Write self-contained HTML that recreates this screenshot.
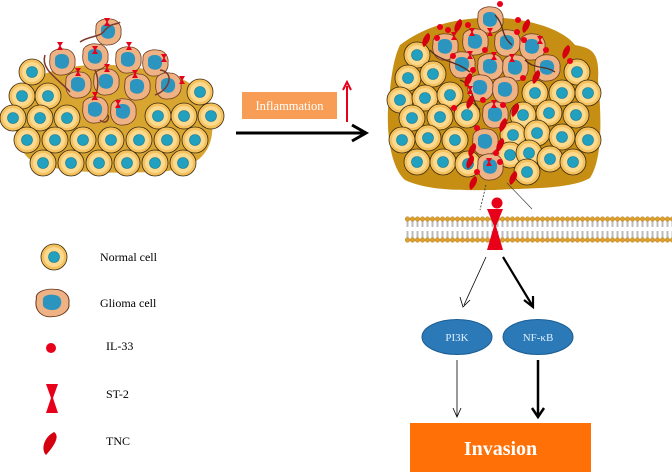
<!DOCTYPE html>
<html><head><meta charset="utf-8"><style>
html,body{margin:0;padding:0;background:#fff;}
svg{display:block;}
text{font-family:"Liberation Serif",serif;}
</style></head><body>
<svg width="672" height="472" viewBox="0 0 672 472" xmlns="http://www.w3.org/2000/svg">
<defs>
<g id="n"><circle r="13" fill="#f4c15c" stroke="#3a2a10" stroke-width="0.8"/><circle r="10" fill="#fbd98f"/><circle r="5.5" fill="#21a0c0" stroke="#157a94" stroke-width="0.6"/></g>
<g id="g"><path d="M-12,-4 C-13,-11 -4,-14 2,-13 C9,-13 14,-7 13,0 C14,7 8,13 0,13 C-7,14 -14,8 -12,-4Z" fill="#efb285" stroke="#6b3b1e" stroke-width="0.8"/><path d="M-7,-3 C-7,-8 0,-9 4,-7 C8,-5 8,2 5,5 C2,8 -6,7 -7,2Z" fill="#2b94bf"/></g>
<g id="r"><path d="M-3,-4 L3,-4 L0.6,0 L3,4 L-3,4 L-0.6,0Z" fill="#e8001a"/></g>
<g id="t"><path d="M2,-7 C6,-5 4,2 -2,7 C-5,5 -4,-3 2,-7Z" fill="#d4000f"/></g>
<pattern id="mem" x="0" y="0" width="5" height="27" patternUnits="userSpaceOnUse">
<line x1="2" y1="3" x2="2" y2="11" stroke="#aaa" stroke-width="0.8"/><line x1="3" y1="3" x2="3" y2="11" stroke="#aaa" stroke-width="0.8"/>
<line x1="2" y1="15" x2="2" y2="23" stroke="#aaa" stroke-width="0.8"/><line x1="3" y1="15" x2="3" y2="23" stroke="#aaa" stroke-width="0.8"/>
<circle cx="2.5" cy="3" r="2.3" fill="#e0a12a" stroke="#a06a10" stroke-width="0.4"/>
<circle cx="2.5" cy="24" r="2.3" fill="#e0a12a" stroke="#a06a10" stroke-width="0.4"/>
</pattern>
</defs>

<!-- left cluster -->
<path d="M30,80 C60,65 100,60 150,70 C190,75 210,95 212,120 C215,150 200,172 150,172 C100,174 45,172 28,158 C10,140 12,100 30,80Z" fill="#d9a531"/>
<g>
<use href="#n" x="32" y="72"/>
<use href="#n" x="22" y="96"/><use href="#n" x="48" y="96"/><use href="#n" x="200" y="92"/>
<use href="#n" x="13" y="118"/><use href="#n" x="40" y="118"/><use href="#n" x="67" y="118"/><use href="#n" x="158" y="116"/><use href="#n" x="184" y="116"/><use href="#n" x="211" y="116"/>
<use href="#n" x="27" y="140"/><use href="#n" x="55" y="140"/><use href="#n" x="83" y="140"/><use href="#n" x="111" y="140"/><use href="#n" x="139" y="140"/><use href="#n" x="167" y="140"/><use href="#n" x="195" y="140"/>
<use href="#n" x="43" y="163"/><use href="#n" x="71" y="163"/><use href="#n" x="99" y="163"/><use href="#n" x="127" y="163"/><use href="#n" x="155" y="163"/><use href="#n" x="183" y="163"/>
</g>
<g>
<use href="#g" x="108" y="32"/><use href="#g" x="62" y="62"/><use href="#g" x="95" y="57"/><use href="#g" x="128" y="60"/><use href="#g" x="155" y="63"/>
<use href="#g" x="78" y="85"/><use href="#g" x="106" y="82"/><use href="#g" x="137" y="87"/><use href="#g" x="168" y="86"/>
<use href="#g" x="95" y="110"/><use href="#g" x="123" y="112"/>
</g>
<g fill="none" stroke="#7a3a2a" stroke-width="1.5">
<path d="M80,42 C90,35 100,38 105,30 C112,22 118,25 120,22"/>
<path d="M45,55 C40,70 60,80 70,92"/><path d="M95,70 C100,80 98,95 92,100"/>
<path d="M160,70 C175,72 170,90 155,95"/><path d="M100,120 C105,125 110,120 108,115"/>
</g>
<g><use href="#r" x="107" y="22"/><use href="#r" x="60" y="46"/><use href="#r" x="95" y="50"/><use href="#r" x="129" y="46"/><use href="#r" x="164" y="58"/><use href="#r" x="78" y="72"/><use href="#r" x="107" y="68"/><use href="#r" x="135" y="74"/><use href="#r" x="182" y="80"/><use href="#r" x="95" y="96"/><use href="#r" x="118" y="104"/></g>

<!-- inflammation -->
<rect x="242" y="92" width="95" height="27" fill="#f79d55"/>
<text x="289.5" y="110" font-size="12.5" fill="#fff" text-anchor="middle">Inflammation</text>
<line x1="347" y1="122" x2="347" y2="86" stroke="#e8001a" stroke-width="2"/>
<path d="M343,90 L347,82 L351,90" fill="none" stroke="#e8001a" stroke-width="2"/>
<line x1="236" y1="133" x2="364" y2="133" stroke="#000" stroke-width="3"/>
<path d="M352,125 L366,133 L352,141" fill="none" stroke="#000" stroke-width="3"/>

<!-- right cluster -->
<path d="M400,45 C420,30 445,20 480,18 C510,15 560,25 575,45 C590,48 600,50 598,80 C602,120 602,160 590,178 C570,190 520,188 495,190 C470,190 430,192 405,180 C388,165 385,120 390,90 C392,70 395,55 400,45Z" fill="#c68f14"/>
<g>
<use href="#n" x="417" y="55"/><use href="#n" x="408" y="78"/><use href="#n" x="433" y="74"/>
<use href="#n" x="400" y="100"/><use href="#n" x="425" y="98"/><use href="#n" x="450" y="95"/>
<use href="#n" x="412" y="118"/><use href="#n" x="440" y="117"/><use href="#n" x="467" y="115"/>
<use href="#n" x="402" y="140"/><use href="#n" x="428" y="138"/><use href="#n" x="455" y="140"/>
<use href="#n" x="417" y="162"/><use href="#n" x="443" y="162"/><use href="#n" x="468" y="164"/>
<use href="#n" x="577" y="72"/><use href="#n" x="535" y="93"/><use href="#n" x="562" y="93"/><use href="#n" x="588" y="93"/>
<use href="#n" x="523" y="115"/><use href="#n" x="549" y="113"/><use href="#n" x="576" y="115"/>
<use href="#n" x="513" y="135"/><use href="#n" x="537" y="133"/><use href="#n" x="562" y="137"/><use href="#n" x="588" y="140"/>
<use href="#n" x="510" y="155"/><use href="#n" x="529" y="153"/><use href="#n" x="550" y="159"/><use href="#n" x="573" y="162"/><use href="#n" x="527" y="172"/>
</g>
<g>
<use href="#g" x="490" y="20"/><use href="#g" x="445" y="47"/><use href="#g" x="475" y="42"/><use href="#g" x="507" y="43"/><use href="#g" x="532" y="47"/>
<use href="#g" x="462" y="65"/><use href="#g" x="490" y="67"/><use href="#g" x="515" y="68"/><use href="#g" x="547" y="68"/>
<use href="#g" x="480" y="88"/><use href="#g" x="505" y="90"/><use href="#g" x="495" y="115"/><use href="#g" x="485" y="142"/><use href="#g" x="490" y="167"/>
</g>
<g fill="none" stroke="#5a2a1a" stroke-width="1.3">
<path d="M430,50 C440,62 455,60 470,72"/><path d="M495,15 C505,25 500,35 512,45"/><path d="M460,80 C475,85 470,100 480,110"/><path d="M525,60 C535,70 545,65 555,72"/>
</g>
<g fill="#e8001a">
<circle cx="500" cy="4" r="3"/><circle cx="468" cy="25" r="3"/><circle cx="448" cy="30" r="3"/><circle cx="518" cy="20" r="3"/><circle cx="517" cy="32" r="3"/><circle cx="437" cy="38" r="3"/><circle cx="453" cy="56" r="3"/><circle cx="485" cy="50" r="3"/><circle cx="524" cy="40" r="3"/><circle cx="546" cy="50" r="3"/><circle cx="570" cy="61" r="3"/><circle cx="523" cy="78" r="3"/><circle cx="473" cy="70" r="3"/><circle cx="503" cy="105" r="3"/><circle cx="483" cy="100" r="3"/><circle cx="454" cy="108" r="3"/><circle cx="477" cy="128" r="3"/><circle cx="496" cy="153" r="3"/><circle cx="477" cy="172" r="3"/><circle cx="500" cy="162" r="3"/><circle cx="440" cy="27" r="3"/>
</g>
<g>
<use href="#r" x="472" y="32"/><use href="#r" x="454" y="36"/><use href="#r" x="490" y="32"/><use href="#r" x="470" y="55"/><use href="#r" x="494" y="56"/><use href="#r" x="512" y="58"/><use href="#r" x="540" y="40"/><use href="#r" x="494" y="104"/><use href="#r" x="470" y="90"/><use href="#r" x="489" y="162"/>
</g>
<g>
<use href="#t" x="426" y="40"/><use href="#t" x="458" y="26"/><use href="#t" x="526" y="26"/><use href="#t" x="566" y="52"/><use href="#t" x="468" y="80"/><use href="#t" x="536" y="77"/><use href="#t" x="515" y="110"/><use href="#t" x="470" y="102"/><use href="#t" x="503" y="125"/><use href="#t" x="472" y="150"/><use href="#t" x="500" y="145"/><use href="#t" x="473" y="183"/><use href="#t" x="513" y="178"/><use href="#t" x="470" y="162"/>
</g>
<line x1="486" y1="185" x2="480" y2="210" stroke="#333" stroke-width="0.8" stroke-dasharray="2,1.5"/>
<line x1="507" y1="183" x2="532" y2="209" stroke="#333" stroke-width="0.6"/>

<!-- membrane -->
<rect x="405" y="216" width="267" height="27" fill="url(#mem)"/>
<circle cx="497" cy="203" r="5.5" fill="#e8001a"/>
<path d="M487,209 L503,209 L496,226 L503,250 L487,250 L494,226Z" fill="#e8001a"/>

<!-- arrows -->
<line x1="486" y1="257" x2="464" y2="305" stroke="#000" stroke-width="0.8"/>
<path d="M460,297 L463,307 L470,300" fill="none" stroke="#000" stroke-width="0.8"/>
<line x1="503" y1="257" x2="532" y2="305" stroke="#000" stroke-width="2.2"/>
<path d="M524,300 L533,307 L533,296" fill="none" stroke="#000" stroke-width="2.2"/>
<ellipse cx="457" cy="337" rx="35" ry="17.5" fill="#2b79b7" stroke="#1c5e95" stroke-width="1"/>
<text x="457" y="341" font-size="11" fill="#dff0ff" text-anchor="middle">PI3K</text>
<ellipse cx="538" cy="337" rx="35" ry="17.5" fill="#2b79b7" stroke="#1c5e95" stroke-width="1"/>
<text x="538" y="341" font-size="11" fill="#dff0ff" text-anchor="middle">NF-κB</text>
<line x1="457" y1="360" x2="457" y2="416" stroke="#000" stroke-width="0.8"/>
<path d="M453,408 L457,417 L461,408" fill="none" stroke="#000" stroke-width="0.8"/>
<line x1="538" y1="360" x2="538" y2="416" stroke="#000" stroke-width="2.5"/>
<path d="M532,408 L538,417 L544,408" fill="none" stroke="#000" stroke-width="2.5"/>
<rect x="410" y="423" width="181" height="49" fill="#ff7006"/>
<text x="500.5" y="455" font-size="20" font-weight="bold" fill="#fff" text-anchor="middle">Invasion</text>

<!-- legend -->
<use href="#n" x="54" y="257"/>
<g transform="translate(52,303) scale(1.3,1.05)"><use href="#g"/></g>
<circle cx="51" cy="348" r="5" fill="#e8001a"/>
<path d="M46,384 L58,384 L53,398 L58,413 L46,413 L51,398Z" fill="#e8001a"/>
<path d="M54,432 C60,436 55,445 46,455 C41,450 43,438 54,432Z" fill="#d4000f"/>
<g font-size="12" fill="#000">
<text x="100" y="261">Normal cell</text>
<text x="100" y="307">Glioma cell</text>
<text x="106" y="350">IL-33</text>
<text x="106" y="398">ST-2</text>
<text x="106" y="445">TNC</text>
</g>
</svg>
</body></html>
